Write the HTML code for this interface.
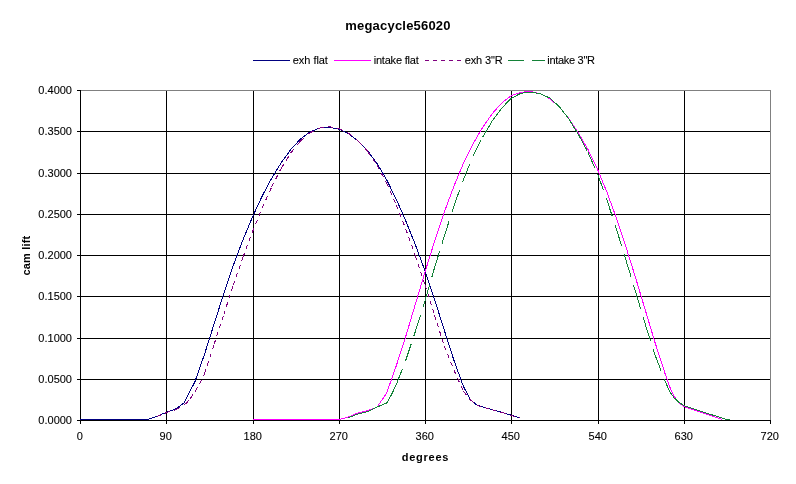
<!DOCTYPE html>
<html><head><meta charset="utf-8"><title>megacycle56020</title>
<style>
html,body{margin:0;padding:0;background:#fff;}
body{width:796px;height:484px;overflow:hidden;}
svg{display:block;}
text{font-family:"Liberation Sans",sans-serif;fill:#000;stroke:#000;stroke-width:0.1px;}
.t{font-size:11px;}
.b{font-weight:bold;stroke:none;}
</style></head><body>
<svg width="796" height="484" viewBox="0 0 796 484" shape-rendering="crispEdges">
<rect x="0" y="0" width="796" height="484" fill="#fff"/>
<g stroke="#000" stroke-width="1"><line x1="166.5" y1="90" x2="166.5" y2="420"/><line x1="253.5" y1="90" x2="253.5" y2="420"/><line x1="339.5" y1="90" x2="339.5" y2="420"/><line x1="425.5" y1="90" x2="425.5" y2="420"/><line x1="511.5" y1="90" x2="511.5" y2="420"/><line x1="598.5" y1="90" x2="598.5" y2="420"/><line x1="684.5" y1="90" x2="684.5" y2="420"/><line x1="80" y1="131.5" x2="770" y2="131.5"/><line x1="80" y1="173.5" x2="770" y2="173.5"/><line x1="80" y1="214.5" x2="770" y2="214.5"/><line x1="80" y1="255.5" x2="770" y2="255.5"/><line x1="80" y1="296.5" x2="770" y2="296.5"/><line x1="80" y1="338.5" x2="770" y2="338.5"/><line x1="80" y1="379.5" x2="770" y2="379.5"/></g>
<g stroke="#808080" stroke-width="1"><line x1="80" y1="90.5" x2="771" y2="90.5"/><line x1="770.5" y1="90" x2="770.5" y2="420"/></g>
<g stroke="#000" stroke-width="1"><line x1="80.5" y1="90" x2="80.5" y2="421"/><line x1="80" y1="420.5" x2="771" y2="420.5"/><line x1="80.5" y1="420" x2="80.5" y2="424"/><line x1="77" y1="90.5" x2="80" y2="90.5"/><line x1="166.5" y1="420" x2="166.5" y2="424"/><line x1="77" y1="131.5" x2="80" y2="131.5"/><line x1="253.5" y1="420" x2="253.5" y2="424"/><line x1="77" y1="173.5" x2="80" y2="173.5"/><line x1="339.5" y1="420" x2="339.5" y2="424"/><line x1="77" y1="214.5" x2="80" y2="214.5"/><line x1="425.5" y1="420" x2="425.5" y2="424"/><line x1="77" y1="255.5" x2="80" y2="255.5"/><line x1="511.5" y1="420" x2="511.5" y2="424"/><line x1="77" y1="296.5" x2="80" y2="296.5"/><line x1="598.5" y1="420" x2="598.5" y2="424"/><line x1="77" y1="338.5" x2="80" y2="338.5"/><line x1="684.5" y1="420" x2="684.5" y2="424"/><line x1="77" y1="379.5" x2="80" y2="379.5"/><line x1="770.5" y1="420" x2="770.5" y2="424"/><line x1="77" y1="420.5" x2="80" y2="420.5"/></g>
<g><text class="t" x="79.7" y="440" text-anchor="middle">0</text><text class="t" x="72" y="93.7" text-anchor="end">0.4000</text><text class="t" x="165.7" y="440" text-anchor="middle">90</text><text class="t" x="72" y="134.7" text-anchor="end">0.3500</text><text class="t" x="252.7" y="440" text-anchor="middle">180</text><text class="t" x="72" y="176.7" text-anchor="end">0.3000</text><text class="t" x="338.7" y="440" text-anchor="middle">270</text><text class="t" x="72" y="217.7" text-anchor="end">0.2500</text><text class="t" x="424.7" y="440" text-anchor="middle">360</text><text class="t" x="72" y="258.7" text-anchor="end">0.2000</text><text class="t" x="510.7" y="440" text-anchor="middle">450</text><text class="t" x="72" y="299.7" text-anchor="end">0.1500</text><text class="t" x="597.7" y="440" text-anchor="middle">540</text><text class="t" x="72" y="341.7" text-anchor="end">0.1000</text><text class="t" x="683.7" y="440" text-anchor="middle">630</text><text class="t" x="72" y="382.7" text-anchor="end">0.0500</text><text class="t" x="769.7" y="440" text-anchor="middle">720</text><text class="t" x="72" y="423.7" text-anchor="end">0.0000</text></g>
<text class="b" x="398.0" y="29.7" text-anchor="middle" font-size="13" letter-spacing="0.2">megacycle56020</text>
<text class="t b" x="425.5" y="460.7" text-anchor="middle" letter-spacing="0.75">degrees</text>
<text class="t b" transform="translate(29.5,255.6) rotate(-90)" text-anchor="middle" letter-spacing="0.15">cam lift</text>
<g stroke-width="1" fill="none">
<line x1="253" y1="60.5" x2="290" y2="60.5" stroke="#000080"/>
<line x1="334" y1="60.5" x2="371" y2="60.5" stroke="#ff00ff"/>
<line x1="425" y1="60.5" x2="462" y2="60.5" stroke="#800080" stroke-dasharray="4 4"/>
<line x1="508" y1="60.5" x2="524" y2="60.5" stroke="#148238"/>
<line x1="532" y1="60.5" x2="545" y2="60.5" stroke="#148238"/>
</g>
<text class="t" x="292.8" y="64" letter-spacing="-0.05">exh flat</text>
<text class="t" x="373.7" y="64" letter-spacing="-0.2">intake flat</text>
<text class="t" x="464.7" y="64" letter-spacing="-0.12">exh 3"R</text>
<text class="t" x="547.3" y="64" letter-spacing="-0.3">intake 3"R</text>
<g fill="none" stroke-width="1" stroke-linejoin="round" shape-rendering="crispEdges">
<polyline stroke="#000080" points="80.0,419.5 89.6,419.5 99.2,419.5 108.8,419.5 118.3,419.5 127.9,419.5 137.5,419.5 147.1,419.5 156.7,416.4 166.2,412.4 175.8,408.9 184.2,402.8 195.0,381.5 204.6,354.0 214.2,323.6 223.8,293.6 233.3,265.4 242.9,239.9 252.5,216.9 262.1,196.2 271.7,178.2 281.2,162.8 290.8,149.5 300.4,139.1 310.0,131.9 319.6,128.0 329.2,127.2 338.8,129.1 348.3,133.5 357.9,140.7 367.5,150.6 377.1,163.6 386.7,179.8 396.2,199.2 405.8,221.0 415.4,244.8 425.0,270.8 434.6,299.6 444.2,330.0 453.8,360.0 463.3,386.2 470.3,399.4 477.0,405.2 492.1,409.7 501.7,412.3 511.2,415.2 520.5,418.2"/>
<polyline stroke="#ff00ff" points="252.5,419.5 262.1,419.5 271.7,419.5 281.2,419.5 290.8,419.5 300.4,419.5 310.0,419.5 319.6,419.5 329.2,419.5 338.8,419.5 348.3,417.1 357.9,412.9 367.5,410.8 377.1,407.1 386.7,393.0 396.2,366.0 405.8,336.3 415.4,304.1 425.0,272.0 434.6,241.2 444.2,212.4 453.8,186.5 463.3,163.7 472.9,144.2 482.5,127.6 492.1,113.8 501.7,103.0 511.2,95.7 520.8,92.3 530.4,91.4 540.0,93.6 549.6,98.5 559.2,106.9 568.8,118.5 578.3,132.8 587.9,149.4 597.5,169.2 607.1,192.6 616.7,218.9 626.2,247.8 635.8,278.5 645.4,310.4 655.0,342.4 664.6,372.2 669.4,386.3 674.2,396.4 679.0,403.0 683.8,406.5 693.3,409.9 702.9,413.0 712.5,416.2 722.1,419.5"/>
<g stroke="#800080"><path stroke-dasharray="4.31 4.31" d="M156.7 416.5L166.2 412.7"/><path stroke-dasharray="4.19 4.19" d="M166.2 412.7L175.8 409.7"/><path stroke-dasharray="4.57 4.57" d="M175.8 409.7L185.4 404.4"/><path stroke-dasharray="5.19 5.19" d="M185.4 404.4L190.2 398.6"/><path stroke-dasharray="4.81 4.81" d="M190.2 398.6L195.0 391.4"/><path stroke-dasharray="4.73 4.73" d="M195.0 391.4L199.8 383.8"/><path stroke-dasharray="4.41 4.41" d="M199.8 383.8L204.6 373.5"/><path stroke-dasharray="4.21 4.21" d="M204.6 373.5L214.2 344.0"/><path stroke-dasharray="4.21 4.21" d="M214.2 344.0L223.8 314.5"/><path stroke-dasharray="4.20 4.20" d="M223.8 314.5L233.3 285.1"/><path stroke-dasharray="4.23 4.23" d="M233.3 285.1L242.9 257.4"/><path stroke-dasharray="4.27 4.27" d="M242.9 257.4L252.5 231.7"/><path stroke-dasharray="4.32 4.32" d="M252.5 231.7L262.1 208.1"/><path stroke-dasharray="4.39 4.39" d="M262.1 208.1L271.7 186.9"/><path stroke-dasharray="4.49 4.49" d="M271.7 186.9L281.2 168.3"/><path stroke-dasharray="4.71 4.71" d="M281.2 168.3L290.8 152.9"/><path stroke-dasharray="5.16 5.16" d="M290.8 152.9L300.4 141.1"/><path stroke-dasharray="5.29 5.29" d="M300.4 141.1L310.0 132.8"/><path stroke-dasharray="4.45 4.45" d="M310.0 132.8L319.6 128.1"/><path stroke-dasharray="4.04 4.04" d="M319.6 128.1L329.2 126.7"/><path stroke-dasharray="4.06 4.06" d="M329.2 126.7L338.8 128.4"/><path stroke-dasharray="4.46 4.46" d="M338.8 128.4L348.3 133.1"/><path stroke-dasharray="5.08 5.08" d="M348.3 133.1L357.9 140.6"/><path stroke-dasharray="5.40 5.40" d="M357.9 140.6L367.5 151.2"/><path stroke-dasharray="4.84 4.84" d="M367.5 151.2L377.1 165.3"/><path stroke-dasharray="4.53 4.53" d="M377.1 165.3L386.7 183.3"/><path stroke-dasharray="4.37 4.37" d="M386.7 183.3L396.2 204.8"/><path stroke-dasharray="4.30 4.30" d="M396.2 204.8L405.8 229.1"/><path stroke-dasharray="4.25 4.25" d="M405.8 229.1L415.4 255.8"/><path stroke-dasharray="4.22 4.22" d="M415.4 255.8L425.0 284.6"/><path stroke-dasharray="4.19 4.19" d="M425.0 284.6L434.6 315.4"/><path stroke-dasharray="4.20 4.20" d="M434.6 315.4L444.2 345.7"/><path stroke-dasharray="4.31 4.31" d="M444.2 345.7L453.8 369.8"/><path stroke-dasharray="4.38 4.38" d="M453.8 369.8L463.3 391.0"/><path stroke-dasharray="5.13 5.13" d="M463.3 391.0L470.3 399.7"/><path stroke-dasharray="5.25 5.25" d="M470.3 399.7L477.0 405.4"/><path stroke-dasharray="4.17 4.17" d="M477.0 405.4L492.1 409.8"/><path stroke-dasharray="4.14 4.14" d="M492.1 409.8L501.7 412.4"/><path stroke-dasharray="4.18 4.18" d="M501.7 412.4L511.2 415.3"/><path stroke-dasharray="4.20 4.20" d="M511.2 415.3L520.5 418.3"/></g>
<g stroke="#148238"><path stroke-dasharray="17.15 8.57" d="M348.3 417.7L357.9 414.0"/><path stroke-dasharray="16.49 8.25" d="M357.9 414.0L367.5 411.6"/><path stroke-dasharray="17.74 8.87" d="M367.5 411.6L377.1 407.0"/><path stroke-dasharray="17.33 8.67" d="M377.1 407.0L386.7 403.0"/><path stroke-dasharray="18.43 9.21" d="M386.7 403.0L391.5 394.6"/><path stroke-dasharray="17.74 8.87" d="M391.5 394.6L396.2 384.8"/><path stroke-dasharray="17.18 8.59" d="M396.2 384.8L405.8 360.2"/><path stroke-dasharray="16.86 8.43" d="M405.8 360.2L415.4 331.3"/><path stroke-dasharray="16.77 8.39" d="M415.4 331.3L425.0 300.8"/><path stroke-dasharray="16.65 8.33" d="M425.0 300.8L434.6 267.5"/><path stroke-dasharray="16.75 8.37" d="M434.6 267.5L444.2 236.5"/><path stroke-dasharray="16.79 8.40" d="M444.2 236.5L453.8 206.4"/><path stroke-dasharray="16.99 8.49" d="M453.8 206.4L463.3 179.8"/><path stroke-dasharray="17.29 8.65" d="M463.3 179.8L472.9 156.4"/><path stroke-dasharray="17.93 8.96" d="M472.9 156.4L482.5 137.4"/><path stroke-dasharray="18.60 9.30" d="M482.5 137.4L492.1 121.2"/><path stroke-dasharray="19.84 9.92" d="M492.1 121.2L501.7 108.1"/><path stroke-dasharray="22.40 11.20" d="M501.7 108.1L511.2 98.4"/><path stroke-dasharray="18.12 9.06" d="M511.2 98.4L520.8 93.3"/><path stroke-dasharray="16.12 8.06" d="M520.8 93.3L530.4 92.1"/><path stroke-dasharray="16.22 8.11" d="M530.4 92.1L540.0 93.7"/><path stroke-dasharray="17.46 8.73" d="M540.0 93.7L549.6 97.9"/><path stroke-dasharray="21.48 10.74" d="M549.6 97.9L559.2 106.5"/><path stroke-dasharray="20.23 10.12" d="M559.2 106.5L568.8 118.9"/><path stroke-dasharray="18.80 9.40" d="M568.8 118.9L578.3 134.3"/><path stroke-dasharray="18.18 9.09" d="M578.3 134.3L587.9 152.1"/><path stroke-dasharray="17.50 8.75" d="M587.9 152.1L597.5 173.8"/><path stroke-dasharray="17.00 8.50" d="M597.5 173.8L607.1 200.5"/><path stroke-dasharray="16.83 8.41" d="M607.1 200.5L616.7 230.0"/><path stroke-dasharray="16.74 8.37" d="M616.7 230.0L626.2 260.9"/><path stroke-dasharray="16.72 8.36" d="M626.2 260.9L635.8 292.5"/><path stroke-dasharray="16.70 8.35" d="M635.8 292.5L645.4 324.7"/><path stroke-dasharray="16.79 8.39" d="M645.4 324.7L655.0 354.9"/><path stroke-dasharray="17.13 8.57" d="M655.0 354.9L664.6 380.0"/><path stroke-dasharray="17.46 8.73" d="M664.6 380.0L669.4 391.0"/><path stroke-dasharray="19.40 9.70" d="M669.4 391.0L674.2 398.0"/><path stroke-dasharray="21.48 10.74" d="M674.2 398.0L679.0 402.3"/><path stroke-dasharray="19.23 9.61" d="M679.0 402.3L683.8 405.5"/><path stroke-dasharray="16.99 8.50" d="M683.8 405.5L693.3 408.9"/><path stroke-dasharray="16.76 8.38" d="M693.3 408.9L702.9 411.9"/><path stroke-dasharray="16.81 8.41" d="M702.9 411.9L712.5 415.0"/><path stroke-dasharray="16.81 8.41" d="M712.5 415.0L722.1 418.1"/><path stroke-dasharray="16.83 8.41" d="M722.1 418.1L726.4 419.5"/><path stroke-dasharray="16.00 8.00" d="M726.4 419.5L729.8 419.5"/></g>
</g>
</svg>
</body></html>
